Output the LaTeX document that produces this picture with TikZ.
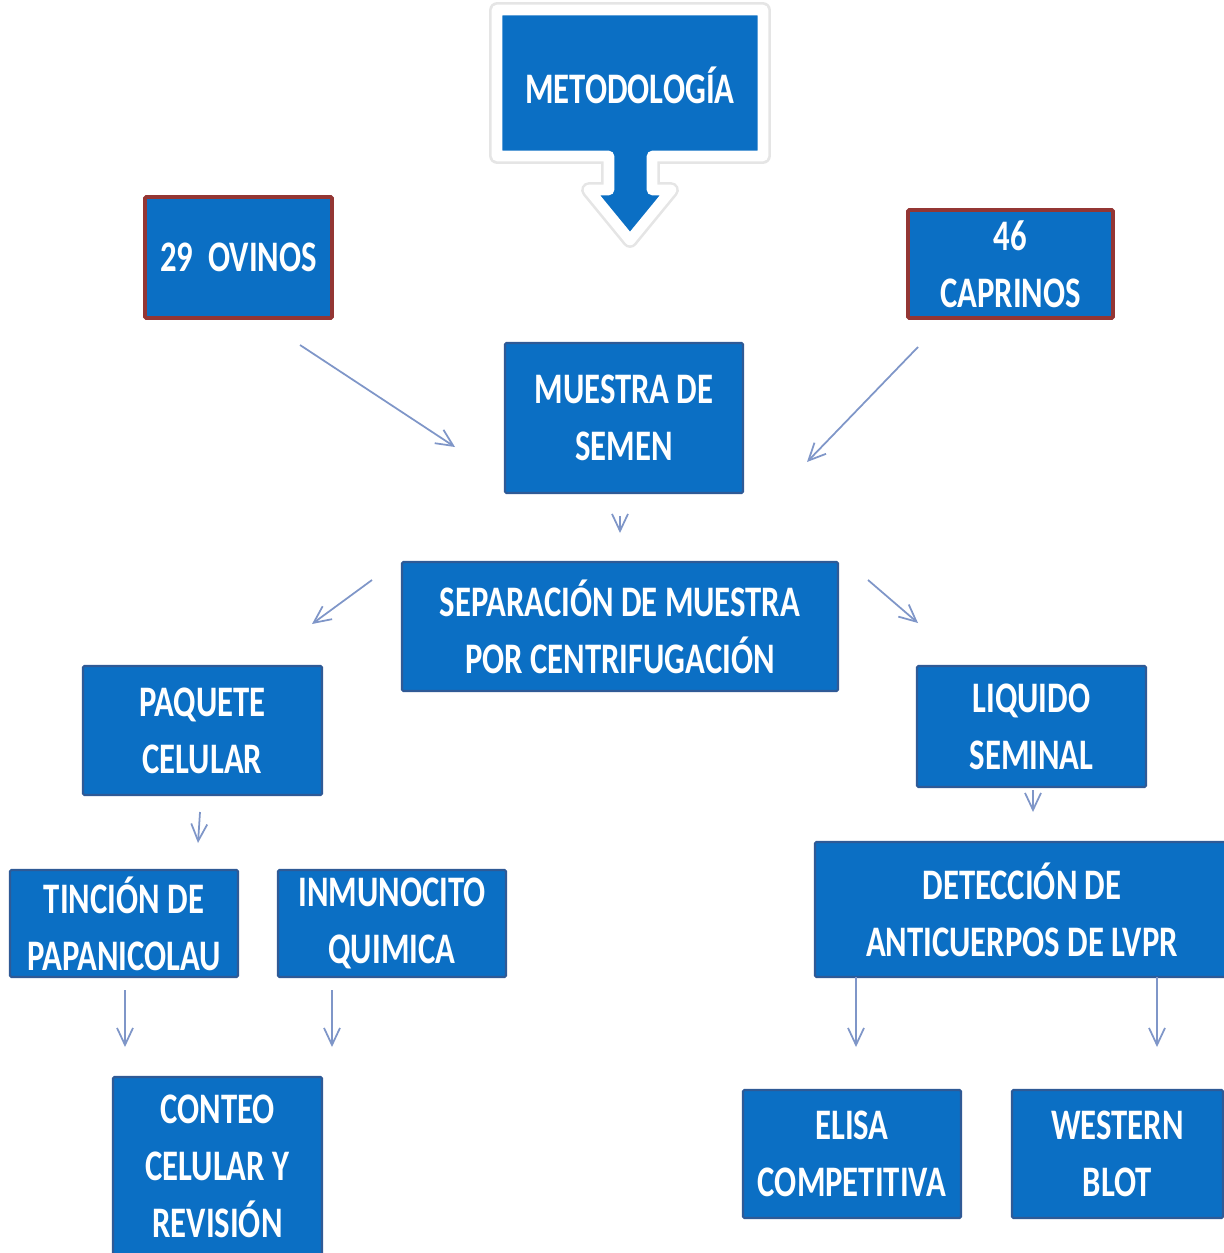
\documentclass[tikz,border=0pt]{standalone}
\usepackage{fontspec}
\usepackage{tikz}
\usetikzlibrary{arrows.meta}
\newfontfamily\boxfont{Carlito}[FakeStretch=0.75]
\definecolor{boxblue}{HTML}{0B6FC4}
\definecolor{boxedge}{HTML}{2F5A96}
\definecolor{redge}{HTML}{943634}
\definecolor{arrowblue}{HTML}{7F96C8}

\begin{document}
\begin{tikzpicture}[>={Straight Barb[length=1.7mm,width=1.6mm]},semithick]
    \tikzstyle{every node}=[font=\boxfont\bfseries\fontsize{12.4}{16.2}\selectfont, text=white, align=center]
    \tikzstyle{blk}=[rectangle, fill=boxblue, draw=boxedge, line width=0.6pt, rounded corners=0.4pt, inner sep=0pt]
    \tikzstyle{rblk}=[blk, draw=redge, line width=1.1pt]
    \tikzstyle{flecha}=[->, draw=arrowblue, line width=0.5pt]
    \useasboundingbox (0,0) rectangle (12.23,-12.53);
    % title callout
    \path[draw=black!10, line width=4.5pt, line join=round]
        (4.97,-0.10) -- (7.63,-0.10) -- (7.63,-1.56) -- (6.52,-1.56) -- (6.52,-1.90)
        -- (6.71,-1.90) -- (6.30,-2.40) -- (5.89,-1.90) -- (6.09,-1.90) -- (6.09,-1.56)
        -- (4.97,-1.56) -- cycle;
    \path[draw=white, line width=3pt, line join=round, fill=boxblue]
        (4.97,-0.10) -- (7.63,-0.10) -- (7.63,-1.56) -- (6.52,-1.56) -- (6.52,-1.90)
        -- (6.71,-1.90) -- (6.30,-2.40) -- (5.89,-1.90) -- (6.09,-1.90) -- (6.09,-1.56)
        -- (4.97,-1.56) -- cycle;
    \node (met) at (6.30, -0.85) {METODOLOGÍA};
    % boxes
    \node[rblk, minimum width=1.87cm, minimum height=1.21cm] (ov) at (2.385, -2.575) {29\ \ OVINOS};
    \node[rblk, minimum width=2.05cm, minimum height=1.08cm] (cap) at (10.105, -2.64) {46\\CAPRINOS};
    \node[blk, minimum width=2.38cm, minimum height=1.50cm] (mue) at (6.24, -4.18) {MUESTRA DE\\SEMEN};
    \node[blk, minimum width=4.36cm, minimum height=1.29cm] (sep) at (6.20, -6.265) {SEPARACIÓN DE MUESTRA\\POR CENTRIFUGACIÓN};
    \node[blk, minimum width=2.39cm, minimum height=1.29cm] (paq) at (2.025, -7.305) {PAQUETE\\CELULAR};
    \node[blk, minimum width=2.29cm, minimum height=1.21cm] (liq) at (10.315, -7.265) {LIQUIDO\\SEMINAL};
    \node[blk, minimum width=2.28cm, minimum height=1.07cm] (tin) at (1.24, -9.235) {TINCIÓN DE\\PAPANICOLAU};
    \node[blk, minimum width=2.28cm, minimum height=1.07cm] (inm) at (3.92, -9.235) {INMUNOCITO\\QUIMICA};
    \node[blk, minimum width=2.09cm, minimum height=1.78cm] (con) at (2.175, -11.66) {CONTEO\\CELULAR Y\\REVISIÓN};
    \node[blk, minimum width=4.14cm, minimum height=1.35cm] (det) at (10.22, -9.095) {DETECCIÓN DE\\ANTICUERPOS DE LVPR};
    \node[blk, minimum width=2.18cm, minimum height=1.28cm] (eli) at (8.52, -11.54) {ELISA\\COMPETITIVA};
    \node[blk, minimum width=2.11cm, minimum height=1.28cm] (wes) at (11.175, -11.54) {WESTERN\\BLOT};
    % arrow ends
    \coordinate (ovA) at (3.00, -3.45);   \coordinate (mueL) at (4.55, -4.47);
    \coordinate (capA) at (9.18, -3.47);  \coordinate (mueR) at (8.07, -4.62);
    \coordinate (mueB) at (6.20, -5.16);  \coordinate (sepT) at (6.20, -5.33);
    \coordinate (sepL) at (3.72, -5.80);  \coordinate (paqT) at (3.12, -6.24);
    \coordinate (sepR) at (8.68, -5.80);  \coordinate (liqT) at (9.18, -6.23);
    \coordinate (paqB) at (2.00, -8.12);  \coordinate (tinT) at (1.98, -8.43);
    \coordinate (liqB) at (10.33, -7.90); \coordinate (detT) at (10.33, -8.12);
    \coordinate (tinB) at (1.25, -9.90);  \coordinate (conL) at (1.25, -10.47);
    \coordinate (inmB) at (3.32, -9.90);  \coordinate (conR) at (3.32, -10.47);
    \coordinate (detL) at (8.56, -9.77);  \coordinate (eliT) at (8.56, -10.47);
    \coordinate (detR) at (11.57, -9.77); \coordinate (wesT) at (11.57, -10.47);
    \path (ovA) edge[flecha] (mueL);
    \path (capA) edge[flecha] (mueR);
    \path (mueB) edge[flecha] (sepT);
    \path (sepL) edge[flecha] (paqT);
    \path (sepR) edge[flecha] (liqT);
    \path (paqB) edge[flecha] (tinT);
    \path (liqB) edge[flecha] (detT);
    \path (tinB) edge[flecha] (conL);
    \path (inmB) edge[flecha] (conR);
    \path (detL) edge[flecha] (eliT);
    \path (detR) edge[flecha] (wesT);
\end{tikzpicture}
\end{document}
